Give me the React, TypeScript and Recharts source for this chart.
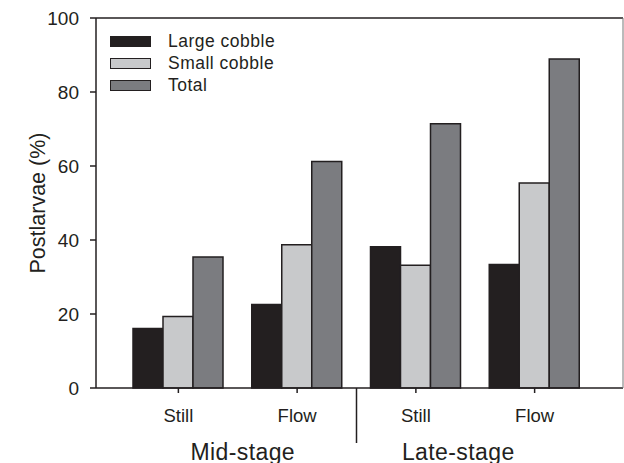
import { BarChart, Bar, XAxis, YAxis, ReferenceLine } from "recharts";

const categories = ["Still", "Flow", "Still", "Flow"];
const stages = ["Mid-stage", "Mid-stage", "Late-stage", "Late-stage"];
const seriesNames = ["Large cobble", "Small cobble", "Total"];
const largeCobble = [16.1, 22.6, 38.2, 33.4];
const smallCobble = [19.3, 38.7, 33.2, 55.4];
const total = [35.4, 61.2, 71.4, 88.9];
const yTicks = [0, 20, 40, 60, 80, 100];

const colors = ["#231f20", "#c8c9cb", "#7b7c80"];
const INK = "#231f20";

const data = categories.map((c, i) => ({
  key: `${stages[i]}|${c}`,
  stage: stages[i],
  large: largeCobble[i],
  small: smallCobble[i],
  total: total[i],
}));

// layout
const W = 624;
const H = 463;
const M = { top: 18, right: 0, left: 36, bottom: 0 };
const Y_W = 60;
const PAD = { left: 23, right: 29 };
const BAND = (W - M.left - Y_W - M.right - 1 - PAD.left - PAD.right) / categories.length;
// the stage labels sit a little toward the divider in the original
const STAGE_SHIFT: Record<string, number> = { "Mid-stage": 5, "Late-stage": -17 };

const MainTick = (props: any) => {
  const { x, y, payload, index } = props;
  const label = String(payload.value).split("|")[1];
  const sep = index > 0 && stages[index] !== stages[index - 1];
  return (
    <g>
      <text x={x} y={y} dy="0.71em" textAnchor="middle" fontSize={18.5} fill={INK}>
        {label}
      </text>
      {sep && (
        <line
          x1={x - BAND / 2}
          x2={x - BAND / 2}
          y1={y - 21}
          y2={y + 34}
          stroke={INK}
          strokeWidth={1.5}
        />
      )}
    </g>
  );
};

const StageTick = (props: any) => {
  const { x, y, payload } = props;
  return (
    <text
      x={x + (STAGE_SHIFT[payload.value] || 0)}
      y={y}
      dy="0.71em"
      textAnchor="middle"
      fontSize={23}
      letterSpacing={0.4}
      fill={INK}
    >
      {payload.value}
    </text>
  );
};

const YLabel = (props: any) => {
  const { viewBox } = props;
  const cx = viewBox.x + 9;
  const cy = viewBox.y + viewBox.height / 2;
  return (
    <text
      x={cx}
      y={cy}
      transform={`rotate(-90, ${cx}, ${cy})`}
      textAnchor="middle"
      fontSize={21.5}
      fill={INK}
    >
      Postlarvae (%)
    </text>
  );
};

const LegendBox = () => (
  <div style={{ position: "absolute", left: 110, top: 30 }}>
    {seriesNames.map((n, i) => (
      <div key={n} style={{ display: "flex", alignItems: "center", height: 22 }}>
        <div
          style={{
            width: 41,
            height: 11,
            boxSizing: "border-box",
            background: colors[i],
            border: `1.5px solid ${INK}`,
          }}
        />
        <span style={{ marginLeft: 17, fontSize: 17.5, color: INK, lineHeight: "22px", letterSpacing: 0.5 }}>
          {n}
        </span>
      </div>
    ))}
  </div>
);

export default function App() {
  return (
    <div
      style={{
        position: "absolute",
        left: 0,
        top: 0,
        width: W,
        height: H,
        background: "#fff",
        fontFamily: "'Liberation Sans', Arial, sans-serif",
      }}
    >
      <BarChart width={W} height={H} data={data} margin={M} barGap={0} barCategoryGap={14}>
        <XAxis
          dataKey="key"
          interval={0}
          height={40}
          padding={PAD}
          tickSize={5}
          tickMargin={16}
          tick={<MainTick />}
          axisLine={{ stroke: INK, strokeWidth: 1.5 }}
          tickLine={{ stroke: INK, strokeWidth: 1.5 }}
        />
        <XAxis
          xAxisId="stage"
          dataKey="stage"
          allowDuplicatedCategory={false}
          interval={0}
          height={35}
          padding={PAD}
          axisLine={false}
          tickLine={false}
          tickSize={0}
          tickMargin={16}
          tick={<StageTick />}
        />
        <YAxis
          domain={[0, 100]}
          ticks={yTicks}
          width={Y_W}
          tickSize={6}
          tickMargin={11}
          tick={{ fontSize: 19, fill: INK }}
          axisLine={{ stroke: INK, strokeWidth: 1.5 }}
          tickLine={{ stroke: INK, strokeWidth: 1.5 }}
          label={<YLabel />}
        />
        <YAxis
          yAxisId="r"
          orientation="right"
          domain={[0, 100]}
          width={1}
          tick={false}
          tickLine={false}
          axisLine={{ stroke: "#777", strokeWidth: 1 }}
        />
        <ReferenceLine y={100} stroke={INK} strokeWidth={1.5} />
        <Bar dataKey="large" name={seriesNames[0]} fill={colors[0]} stroke={INK} strokeWidth={1.5} isAnimationActive={false} />
        <Bar dataKey="small" name={seriesNames[1]} fill={colors[1]} stroke={INK} strokeWidth={1.5} isAnimationActive={false} />
        <Bar dataKey="total" name={seriesNames[2]} fill={colors[2]} stroke={INK} strokeWidth={1.5} isAnimationActive={false} />
      </BarChart>
      <LegendBox />
    </div>
  );
}
